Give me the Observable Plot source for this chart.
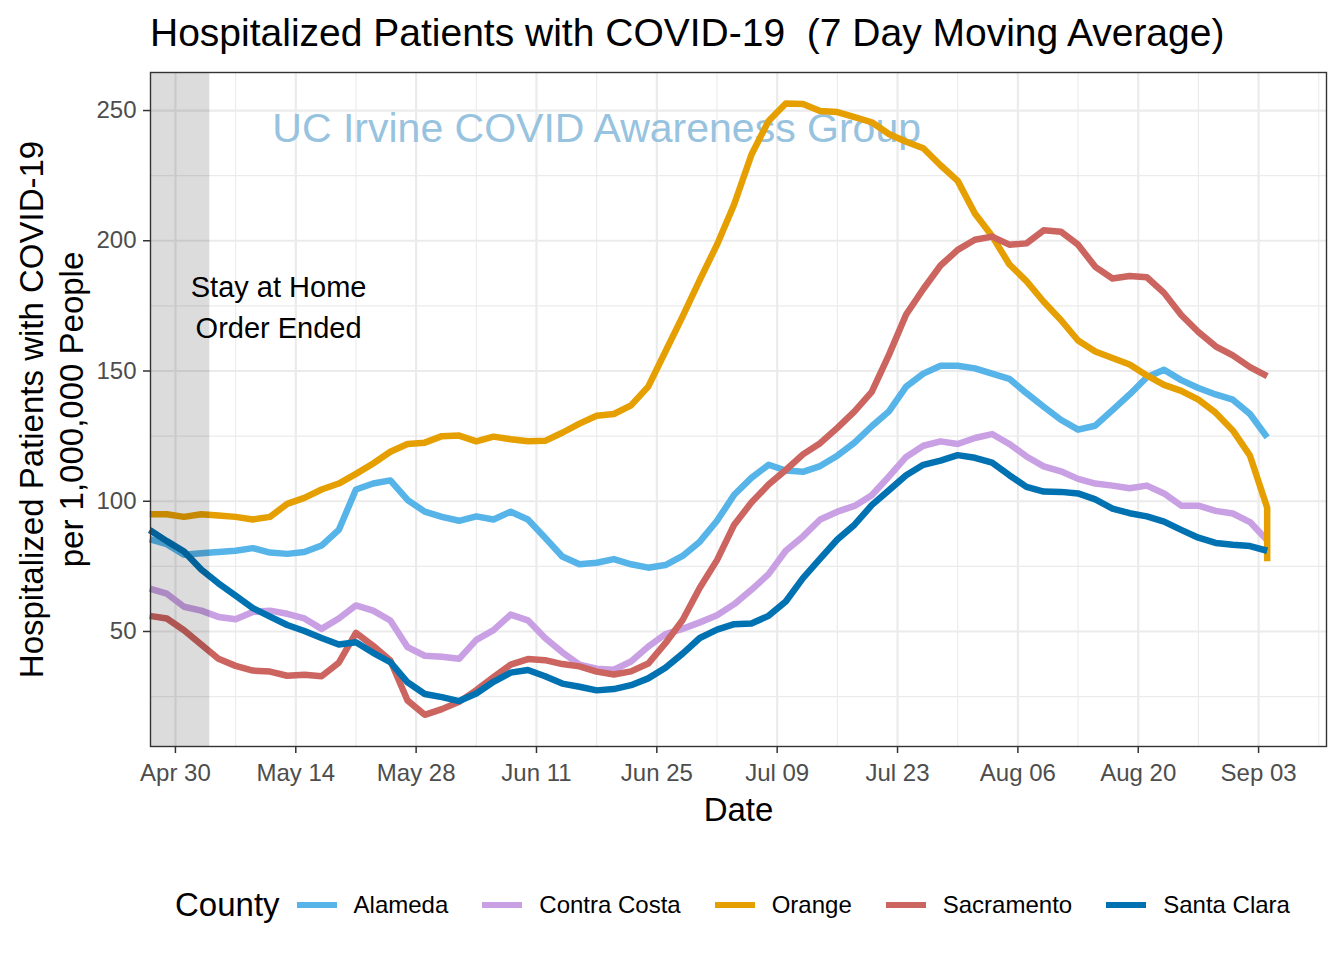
<!DOCTYPE html>
<html>
<head>
<meta charset="utf-8">
<script src="https://cdn.jsdelivr.net/npm/d3@7"></script>
<script src="https://cdn.jsdelivr.net/npm/@observablehq/plot@0.6"></script>
<style>
  html, body { margin: 0; padding: 0; background: #fff; }
  body { font-family: "Liberation Sans", Arial, sans-serif; }
  #wrap { position: relative; width: 1344px; height: 960px; overflow: hidden; background: #fff; }
  #title { position: absolute; left: 0; top: 0; }
  #chart { position: absolute; left: 0; top: 60px; }
  #legend { position: absolute; left: 175px; top: 880px; height: 50px; display: flex; align-items: center; white-space: nowrap; }
  #legend .lt { font-size: 33px; color: #000; margin-right: 17px; }
  #legend .key { width: 40px; height: 6px; margin-right: 17px; }
  #legend .lab { font-size: 24px; color: #000; margin-right: 34px; }
</style>
</head>
<body>
<div id="wrap">
  <svg id="title" width="1344" height="60"><text x="150" y="46" font-size="39" fill="#000" style="white-space:pre" font-family="Liberation Sans, Arial, sans-serif">Hospitalized Patients with COVID-19  (7 Day Moving Average)</text></svg>
  <div id="chart"></div>
  <div id="legend"></div>
</div>
<script>
// ---------------- data ----------------
const startDate = "2020-04-27";   // first observation
const stepDays = 2;               // spacing between observations

const counties = ["Alameda", "Contra Costa", "Orange", "Sacramento", "Santa Clara"];
const countyColors = ["#56B4E9", "#C9A0E3", "#E69F00", "#CC6460", "#0072B2"];

const alameda = [85.5, 83.5, 79.5, 80, 80.5, 81, 82, 80.3, 79.8, 80.5,
  83, 89, 104.5, 106.8, 108, 100.5, 96, 94, 92.5, 94.2,
  93, 96, 93, 86, 78.8, 75.8, 76.4, 77.8, 75.8, 74.5,
  75.5, 79, 84.5, 92.5, 102.5, 109, 114, 111.8, 111.3, 113.5,
  117.5, 122.5, 128.8, 134.5, 144, 149, 152, 152, 151, 149,
  147, 141.5, 136.3, 131.3, 127.5, 129, 135, 141, 147.6, 150.5,
  146.5, 143.5, 141, 139, 133.5, 124.5];

const contraCosta = [66.5, 64.5, 59.5, 58, 55.6, 54.7, 57.5, 58, 56.8, 55,
  51, 55, 60, 58, 54.2, 44, 40.7, 40.3, 39.5, 46.8,
  50.5, 56.5, 54.3, 47.5, 42, 37.3, 35.7, 35.3, 38.5, 44.2,
  49, 51, 53.5, 56.2, 60.5, 66, 72, 81, 86.5, 93,
  96, 98.2, 102.3, 109.5, 117, 121.3, 123, 122, 124.3, 125.8,
  122, 117.2, 113.4, 111.5, 108.6, 106.8, 106, 105, 106, 103,
  98.3, 98.3, 96.3, 95.3, 92, 85];

const orange = [95, 95, 94, 95, 94.5, 94, 93, 94, 99, 101.3,
  104.5, 106.8, 110.5, 114.5, 119, 122, 122.5, 125, 125.2, 123,
  124.8, 123.8, 123, 123.2, 126.3, 129.8, 132.8, 133.5, 136.8, 144,
  157.5, 171, 185, 198.5, 214, 233, 246, 252.7, 252.5, 249.8,
  249.4, 247.5, 245.5, 241, 238, 235.5, 229, 223, 210.5, 201.8,
  191, 184.5, 176.6, 169.6, 161.7, 157.5, 155, 152.5, 148.3, 144.7,
  142.4, 139, 134, 127.2, 117.5, 97.5];
const orangeTail = [["2020-09-04", 77]];   // last reported value

const sacramento = [56, 55, 50.5, 45, 39.5, 36.8, 35, 34.6, 33, 33.4,
  32.8, 38, 49.5, 44.5, 38.9, 23.5, 18, 20.2, 23, 27.5,
  32.5, 37.3, 39.4, 39, 37.5, 36.6, 34.6, 33.5, 34.7, 37.7,
  45.5, 54.4, 66.8, 77.4, 91, 99.5, 106.4, 112, 118, 122.3,
  128.2, 134.5, 142, 156.2, 171.7, 181.5, 190.5, 196.5, 200.4, 201.6,
  198.5, 199, 204, 203.5, 198.5, 190, 185.5, 186.5, 186, 180,
  171.5, 165, 159.5, 156, 151.5, 148];

const santaClara = [89, 84.7, 80.7, 73.8, 68.5, 63.8, 59, 55.7, 52.5, 50.2,
  47.5, 45, 45.9, 41.8, 38.2, 30.5, 26, 24.8, 23.3, 26.2,
  30.7, 34.2, 35.2, 32.8, 30, 28.8, 27.4, 27.9, 29.4, 32,
  36.1, 41.5, 47.5, 50.7, 52.8, 53.1, 56, 61.5, 70.5, 78,
  85.3, 91, 98.5, 104.2, 110, 114, 115.6, 117.7, 116.7, 114.8,
  110, 105.5, 103.7, 103.6, 103, 100.7, 97.2, 95.4, 94.2, 92.2,
  89, 86, 84, 83.3, 82.8, 81];

const xTickLabels = ["2020-04-30", "2020-05-14", "2020-05-28", "2020-06-11", "2020-06-25",
  "2020-07-09", "2020-07-23", "2020-08-06", "2020-08-20", "2020-09-03"];
const xMinorTicks = ["2020-05-07", "2020-05-21", "2020-06-04", "2020-06-18", "2020-07-02",
  "2020-07-16", "2020-07-30", "2020-08-13", "2020-08-27", "2020-09-10"];
const yTickValues = [50, 100, 150, 200, 250];
const yMinorTicks = [25, 75, 125, 175, 225];

const stayAtHome = {start: "2020-04-20", end: "2020-05-04"};
const stayNote = {date: "2020-05-12", value: 175.6, label: "Stay at Home\nOrder Ended"};
const watermark = {date: "2020-06-18", value: 243, label: "UC Irvine COVID Awareness Group"};

// ---------------- build ----------------
const DAY = 864e5;
const t0 = new Date(startDate + "T00:00:00Z").getTime();
const toDate = s => new Date(s + "T00:00:00Z");
const seriesValues = [alameda, contraCosta, orange, sacramento, santaClara];
const rows = [];
counties.forEach((c, k) => {
  seriesValues[k].forEach((v, i) => rows.push({county: c, date: new Date(t0 + i * stepDays * DAY), value: v}));
  if (c === "Orange") orangeTail.forEach(([d, v]) => rows.push({county: c, date: toDate(d), value: v}));
});

const xDomain = [new Date(t0 + 0.1 * DAY), new Date(t0 + 136.9 * DAY)];
const font = "Liberation Sans, Arial, sans-serif";

const chart = Plot.plot({
  width: 1344,
  height: 790,
  marginLeft: 150,
  marginRight: 18,
  marginTop: 12,
  marginBottom: 104,
  style: {fontFamily: font, background: "transparent", overflow: "visible"},
  x: {type: "utc", domain: xDomain},
  y: {domain: [5.85, 264.6]},
  color: {domain: counties, range: countyColors},
  marks: [
    Plot.ruleX(xMinorTicks.map(toDate), {stroke: "#EBEBEB", strokeWidth: 1.1}),
    Plot.ruleY(yMinorTicks, {stroke: "#EBEBEB", strokeWidth: 1.1}),
    Plot.ruleX(xTickLabels.map(toDate), {stroke: "#EBEBEB", strokeWidth: 2.2}),
    Plot.ruleY(yTickValues, {stroke: "#EBEBEB", strokeWidth: 2.2}),
    Plot.text([watermark], {x: d => toDate(d.date), y: "value", text: "label", fontSize: 41, fill: "#98C3DF"}),
    Plot.line(rows, {x: "date", y: "value", stroke: "county", z: "county", strokeWidth: 6.5,
      strokeLinejoin: "round", strokeLinecap: "butt"}),
    Plot.rect([stayAtHome], {x1: d => toDate(d.start), x2: d => toDate(d.end), fill: "#000", fillOpacity: 0.137, clip: true}),
    Plot.text([stayNote], {x: d => toDate(d.date), y: "value", text: "label", fontSize: 29, lineHeight: 1.42, fill: "#000"}),
    Plot.frame({stroke: "#333333", strokeWidth: 1.4}),
    Plot.axisX(xTickLabels.map(toDate), {tickFormat: d3.utcFormat("%b %d"), tickSize: 7, tickPadding: 10,
      fontSize: 24, fill: "#4D4D4D", stroke: "#333333", strokeWidth: 1.5, label: null}),
    Plot.axisY(yTickValues, {tickSize: 7, tickPadding: 7, fontSize: 24, fill: "#4D4D4D",
      stroke: "#333333", strokeWidth: 1.5, label: null}),
    Plot.text(["Hospitalized Patients with COVID-19\nper 1,000,000 People"], {frameAnchor: "left", dx: -100,
      rotate: -90, textAnchor: "middle", lineAnchor: "middle", fontSize: 33, lineHeight: 1.2, fill: "#000", text: d => d}),
    Plot.text(["Date"], {frameAnchor: "bottom", dy: 64, lineAnchor: "middle", fontSize: 33, fill: "#000", text: d => d})
  ]
});
document.getElementById("chart").appendChild(chart);

// legend
const legend = document.getElementById("legend");
const lt = document.createElement("span");
lt.className = "lt"; lt.textContent = "County";
legend.appendChild(lt);
counties.forEach((c, i) => {
  const key = document.createElement("div");
  key.className = "key"; key.style.background = countyColors[i];
  const lab = document.createElement("span");
  lab.className = "lab"; lab.textContent = c;
  legend.appendChild(key); legend.appendChild(lab);
});
</script>
</body>
</html>
